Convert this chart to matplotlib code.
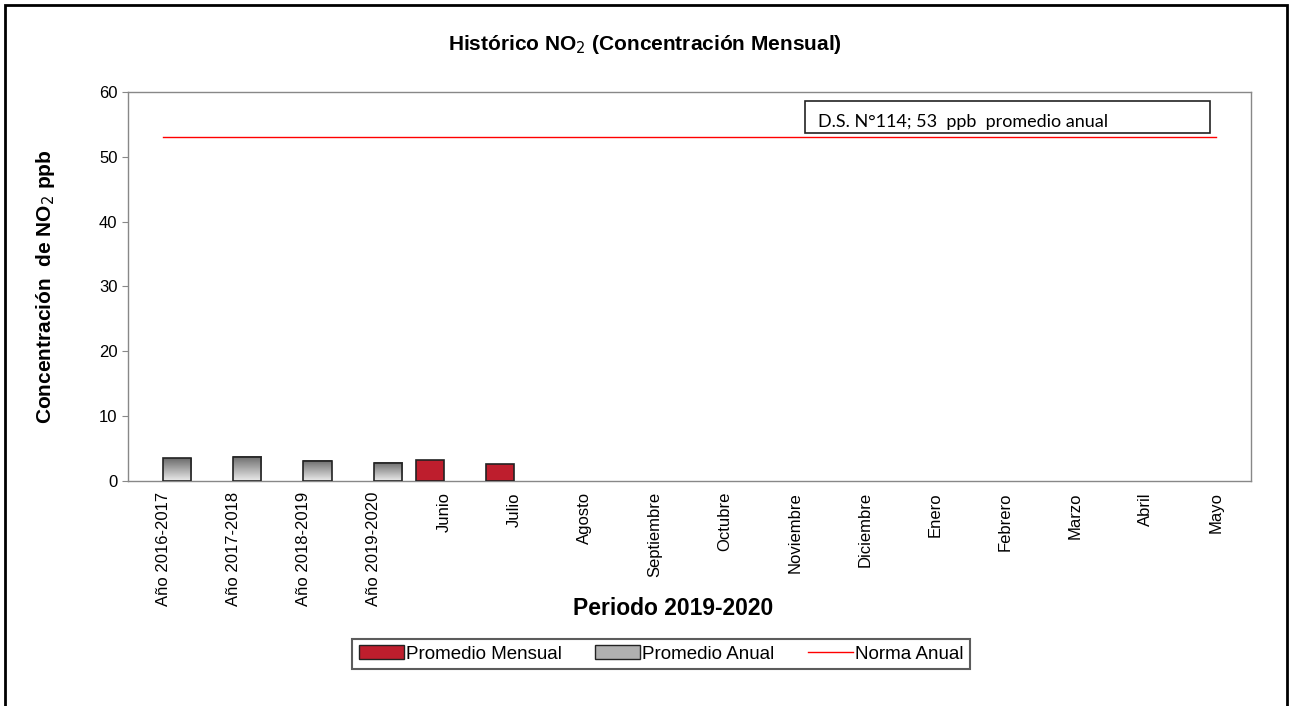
import matplotlib
matplotlib.use("Agg")
import matplotlib.pyplot as plt
import numpy as np
from matplotlib.patches import Rectangle
from matplotlib.lines import Line2D

plt.rcParams['font.family'] = ['Liberation Sans', 'DejaVu Sans']

categories = ["Año 2016-2017", "Año 2017-2018", "Año 2018-2019", "Año 2019-2020",
              "Junio", "Julio", "Agosto", "Septiembre", "Octubre", "Noviembre",
              "Diciembre", "Enero", "Febrero", "Marzo", "Abril", "Mayo"]
promedio_anual = [3.5, 3.75, 3.1, 2.85] + [np.nan] * 12
promedio_mensual = [np.nan] * 4 + [3.2, 2.6] + [np.nan] * 10
norma_anual = [53] * 16

fig = plt.figure(figsize=(12.89, 7.06), dpi=100)
ax = fig.add_axes([0.0993, 0.3187, 0.8712, 0.551])

x = np.arange(len(categories))
w = 0.4
red = "#be1e2d"
bars_m = ax.bar(x - w / 2, promedio_mensual, width=w, color=red, edgecolor="#222222", linewidth=1.2, zorder=3)
bars_a = ax.bar(x + w / 2, promedio_anual, width=w, color="none", edgecolor="#222222", linewidth=1.2, zorder=4)

grad = np.linspace(0.42, 0.92, 100).reshape(-1, 1)
for b in bars_a:
    h = b.get_height()
    if np.isnan(h):
        continue
    x0, y0, bw = b.get_x(), b.get_y(), b.get_width()
    ax.imshow(grad, cmap="gray", vmin=0, vmax=1, aspect="auto", origin="upper",
              extent=[x0, x0 + bw, y0, y0 + h], zorder=3, interpolation="bilinear")

ax.plot(x, norma_anual, color="#ff0000", linewidth=1.0, zorder=2)

ax.set_xlim(-0.5, len(categories) - 0.5)
ax.set_ylim(0, 60)
ax.set_yticks(range(0, 61, 10))
ax.set_xticks(x)
ax.set_xticklabels(categories, rotation=90, fontsize=12)
ax.tick_params(axis='y', labelsize=12, length=4, color="#888888")
ax.tick_params(axis='x', length=0, pad=8)
for s in ax.spines.values():
    s.set_color("#888888")
    s.set_linewidth(1.0)

ax.set_ylabel("Concentración  de NO$_2$ ppb", fontsize=15, fontweight="bold", labelpad=30)
fig.text(0.5224, 0.1374, "Periodo 2019-2020", ha="center", va="center",
         fontsize=16.5, fontweight="bold")
fig.text(0.5, 0.937, "Histórico NO$_2$ (Concentración Mensual)", ha="center", va="center",
         fontsize=15, fontweight="bold")

# annotation box
ax.add_patch(Rectangle((0.6028, 0.8946), 0.3606, 0.0823, transform=ax.transAxes,
                       facecolor="white", edgecolor="#222222", linewidth=1.2, zorder=5))
ax.text(0.6144, 0.922, "D.S. N°114; 53  ppb  promedio anual", transform=ax.transAxes,
        ha="left", va="center", fontsize=13, family=["Lato", "DejaVu Sans"], zorder=6)

handles = [Rectangle((0, 0), 1, 1, facecolor=red, edgecolor="#222222"),
           Rectangle((0, 0), 1, 1, facecolor="#b0b0b0", edgecolor="#222222"),
           Line2D([0], [0], color="#ff0000", linewidth=1.0)]
leg = fig.legend(handles, ["Promedio Mensual", "Promedio Anual", "Norma Anual"],
                 loc="center", bbox_to_anchor=(0.5130, 0.0737), ncol=3, fontsize=13.5,
                 frameon=True, fancybox=False, edgecolor="#333333", handlelength=2.4,
                 handletextpad=0.1, columnspacing=1.8, borderpad=0.35, borderaxespad=0)
leg.get_frame().set_linewidth(1.5)

fig.patches.append(Rectangle((0.004, -0.01), 0.9945, 1.003, transform=fig.transFigure,
                             fill=False, edgecolor="black", linewidth=2.0))

fig.savefig("out.png", dpi=100)
